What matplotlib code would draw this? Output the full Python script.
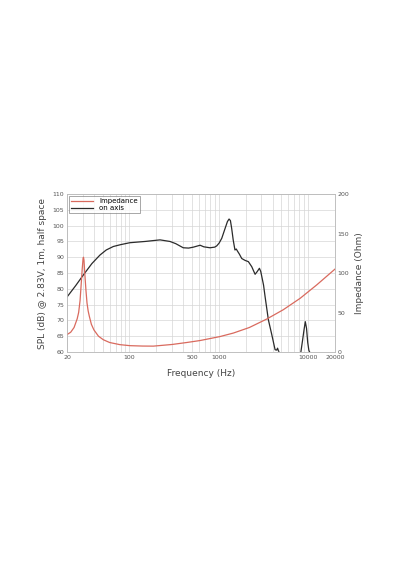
import matplotlib
matplotlib.use('Agg')
import matplotlib.pyplot as plt
import numpy as np

# on axis SPL (dB), NaN where the curve drops below the plot
spl_freq = [20, 25, 30.5, 38, 46.8, 55, 66, 80, 101, 150, 220, 284, 330, 400, 460, 520,
            618, 680, 797, 900, 949, 1010, 1080, 1176, 1250, 1304, 1350, 1395, 1450, 1517,
            1570, 1615, 1700, 1807, 1970, 2145, 2340, 2550, 2700, 2850, 2950, 3170, 3300,
            3590, 3920, 4270, 4450, 4550, 4650, 4700,
            4750, 8300, 8700, 9000, 9300, 9600, 9900, 10200, 10400]
spl_db = [77.4, 81.0, 84.4, 88.0, 90.7, 92.3, 93.4, 94.0, 94.6, 95.0, 95.5, 95.0, 94.3,
          93.0, 92.9, 93.2, 93.8, 93.3, 93.0, 93.2, 93.6, 94.5, 96.0, 99.1, 101.3, 102.1,
          101.6, 99.1, 95.5, 92.3, 92.6, 92.0, 91.0, 89.6, 89.0, 88.6, 87.0, 84.6, 85.5,
          86.5, 85.5, 81.2, 77.5, 70.2, 65.5, 60.7, 60.6,
          61.2, 60.4, 60.2, np.nan, 60.0, 64.0, 67.0, 69.6, 67.5, 63.0, 60.5, 60.0]

# impedance (Ohm)
imp_freq = [20, 22, 24, 26, 27, 28, 28.8, 29.6, 30.3, 30.6, 31.0, 31.6, 32.6, 33.5, 34.5,
            35.6, 37.5, 40, 45, 51, 60, 78, 101, 140, 185, 300, 438, 618, 1030, 1460,
            2200, 3440, 5270, 8150, 12500, 20000]
imp_ohm = [22, 25, 31, 42, 50, 65, 85, 105, 119, 120, 116, 100, 78, 62, 52,
           45, 35, 28, 20, 15.5, 12, 9.3, 8.0, 7.5, 7.4, 9.5, 12.0, 14.5, 19.5, 24.0,
           31.0, 41.7, 53.5, 68.0, 85.0, 105.0]

xticks = [20, 100, 500, 1000, 10000, 20000]
xlabels = ['20', '100', '500', '1000', '10000', '20000']

fig = plt.figure(figsize=(4, 5.7), dpi=100)
ax = fig.add_axes([0.1675, 0.3825, 0.67, 0.277])
ax2 = ax.twinx()

grid_col = '#d6d6d6'
tick_col = '#555555'

ax.set_xscale('log')
ax.set_xlim(20, 20000)
ax.set_ylim(60, 110)
ax.set_yticks(np.arange(60, 111, 5))
ax.set_xticks(xticks)
ax.set_xticklabels(xlabels)
ax.xaxis.set_minor_formatter(matplotlib.ticker.NullFormatter())
ax.grid(True, which='both', axis='x', color=grid_col, linewidth=0.5)
ax.grid(True, which='major', axis='y', color=grid_col, linewidth=0.5)
ax.set_axisbelow(True)

ax2.set_ylim(0, 200)
ax2.set_yticks([0, 50, 100, 150, 200])

l1, = ax2.plot(imp_freq, imp_ohm, color='#d96a5e', linewidth=0.9, label='Impedance')
l2, = ax.plot(spl_freq, spl_db, color='#2b2b2b', linewidth=0.9, label='on axis')

for a in (ax, ax2):
    a.tick_params(which='both', length=0, labelsize=4.5, labelcolor=tick_col, pad=2)
    for s in a.spines.values():
        s.set_color('#bbbbbb')
        s.set_linewidth(0.5)

ax.set_ylabel('SPL (dB) @ 2.83V, 1m, half space', fontsize=6.5, color='#444444', labelpad=4)
ax2.set_ylabel('Impedance (Ohm)', fontsize=6.5, color='#444444', labelpad=4)
ax.set_xlabel('Frequency (Hz)', fontsize=6.5, color='#444444', labelpad=7)

leg = ax2.legend(handles=[l1, l2], loc='upper left', fontsize=5, frameon=True,
                 fancybox=False, borderaxespad=0.3, handlelength=3.2,
                 borderpad=0.3, labelspacing=0.1, edgecolor='#666666')
leg.get_frame().set_linewidth(0.5)

fig.savefig('out.png', dpi=100)
